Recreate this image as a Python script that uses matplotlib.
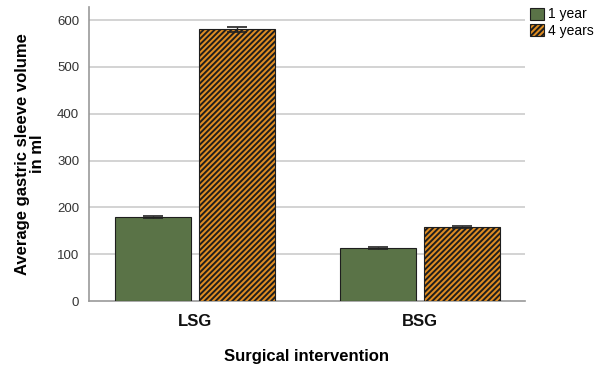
import matplotlib
matplotlib.use("Agg")
import matplotlib.pyplot as plt
import numpy as np
from matplotlib.patches import Patch

plt.rcParams['font.family'] = ['Liberation Sans', 'DejaVu Sans']
plt.rcParams['hatch.linewidth'] = 1.4
plt.rcParams['hatch.color'] = '#2a1a08'

categories = ["LSG", "BSG"]
series_names = ["1 year", "4 years"]
year1 = [179, 113]
year4 = [580, 158]
err1 = [1.5, 2]
err4 = [6, 2]
yticks = [0, 100, 200, 300, 400, 500, 600]

fig = plt.figure(figsize=(5.99, 3.86), dpi=100)
ax = fig.add_axes([0.1486, 0.2202, 0.7274, 0.7618])

x = np.arange(len(categories))
w = 0.338
off = 0.186
green = '#5a7347'
orange = '#e08d22'

ax.bar(x - off, year1, w, color=green, edgecolor='#1e1e1e', linewidth=0.8, zorder=3)
ax.bar(x + off, year4, w, color=orange, edgecolor='#1e1e1e', linewidth=0.8,
       hatch='//////', zorder=3)
ax.errorbar(x - off, year1, yerr=err1, fmt='none', ecolor='#222222', elinewidth=1,
            capsize=7, capthick=1.2, zorder=4)
ax.errorbar(x + off, year4, yerr=err4, fmt='none', ecolor='#222222', elinewidth=1,
            capsize=7, capthick=1.2, zorder=4)

ax.set_xlim(-0.471, 1.467)
ax.set_ylim(0, 628)
ax.set_yticks(yticks)
ax.set_yticklabels([str(v) for v in yticks], fontsize=9.5, color='#333333')
ax.set_xticks(x)
ax.set_xticklabels(categories, fontsize=12, fontweight='bold', color='#111111')
ax.tick_params(axis='x', length=0, pad=9)
ax.tick_params(axis='y', length=0, pad=7)

for v in yticks[1:]:
    ax.axhline(v, color='#cccccc', linewidth=1.2, zorder=1)

for s in ['top', 'right']:
    ax.spines[s].set_visible(False)
for s in ['left', 'bottom']:
    ax.spines[s].set_color('#999999')
    ax.spines[s].set_linewidth(1.2)

ax.set_xlabel("Surgical intervention", fontsize=12, fontweight='bold', labelpad=15)
ax.set_ylabel("Average gastric sleeve volume\nin ml", fontsize=12, fontweight='bold',
              labelpad=9, linespacing=0.95)

handles = [Patch(facecolor=green, edgecolor='#1e1e1e', linewidth=0.8),
           Patch(facecolor=orange, edgecolor='#1e1e1e', linewidth=0.8, hatch='//////')]
fig.legend(handles, series_names, loc='upper left', bbox_to_anchor=(0.875, 0.995),
           frameon=False, fontsize=10, handlelength=1.0, handleheight=1.0,
           handletextpad=0.3, labelspacing=0.15, borderaxespad=0)

fig.savefig("out.png", dpi=100)
